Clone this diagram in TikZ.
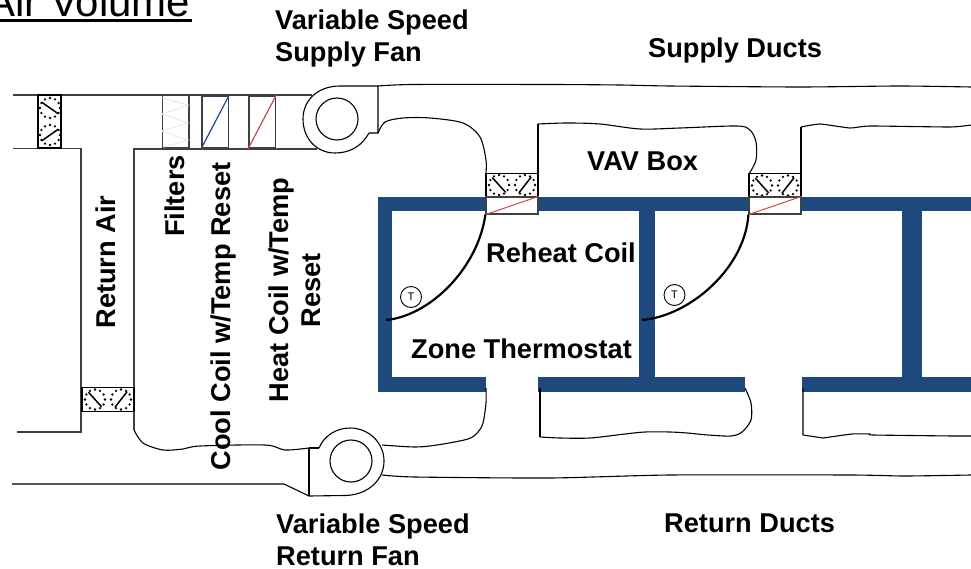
\documentclass[tikz,border=0pt]{standalone}
\usepackage{fontspec}
\setmainfont{Liberation Sans}
\usepackage{tikz}
\usetikzlibrary{
  positioning
}
\definecolor{wallblue}{HTML}{1F497D}
\definecolor{coilred}{HTML}{C0504D}
\definecolor{filtercream}{HTML}{EEECE1}
\definecolor{framegray}{HTML}{404040}
\tikzset{
  duct/.style = {black, line width=1.1pt, line join=round},
  framed/.style = {framegray, line width=1.5pt},
  wall/.style = {fill=wallblue, draw=none},
  wire/.style = {black, line width=2.2pt},
  damperbox/.style = {draw=black, line width=1.3pt, fill=white},
  coilbox/.style = {draw=framegray, line width=1.2pt, fill=white},
  label/.style = {font=\bfseries\fontsize{27.2}{32}\selectfont, inner sep=0pt, black},
  tstat/.style = {circle, draw=black, line width=0.9pt, fill=white, minimum size=21pt,
    inner sep=0pt, font=\fontsize{11}{11}\selectfont}
}
% one dial of a damper: centre x, centre y, blade angle
\newcommand{\damperdial}[3]{
    \begin{scope}[shift={(#1,#2)}]
        \foreach \ang in {0,30,...,330} {
            \fill (\ang:10) circle (1.3);
        }
        \draw[black, line width=1.5pt] (#3:10) -- (#3+180:10);
    \end{scope}
}

\begin{document}
\begin{tikzpicture}[x=1pt, y=-1pt]

    \useasboundingbox (0,0) rectangle (971,569);
    \clip (0,0) rectangle (971,569);

    % Title, cut off by the top edge
    \node[anchor=base west, inner sep=0pt, font=\fontsize{42}{42}\selectfont] (title) at (-13,17) {Air Volume};
    \draw[black, line width=3pt] (0,21) -- (192,21);

    % Air handler casing
    \draw[framed] (13,95) -- (312,95);
    \draw[framed] (13,148.5) -- (81,148.5) -- (81,432) -- (17,432);
    \draw[framed] (317,149) -- (134,149) -- (134,430);
    \draw[duct] plot[smooth, tension=0.5] coordinates {(134,430) (143,443) (163,450) (183,449) (200,446) (265,445) (285,450) (309,448)};

    % Zone walls
    \foreach \xa/\xb in {378/486, 538/749, 801/971} {
        \fill[wall] (\xa,197) rectangle (\xb,211);
    }
    \foreach \xa/\xb in {378/486, 538/745, 802/971} {
        \fill[wall] (\xa,377) rectangle (\xb,392);
    }
    \foreach \xa/\xb in {378/392, 639/655, 902/922} {
        \fill[wall] (\xa,197) rectangle (\xb,392);
    }

    % Supply fan
    \draw[duct] (337,119) circle (21);
    \draw[duct] (369,133) .. controls (362,146) and (350,153) .. (335,153)
        .. controls (316,153) and (303,138) .. (303,119)
        .. controls (303,100) and (318,86) .. (340,86) -- (378,86) -- (378,133) -- (369,133);

    % Return fan
    \draw[duct] (351,461) circle (21);
    \draw[duct] (319,448) .. controls (324,436) and (336,428) .. (350,428)
        .. controls (369,428) and (384,443) .. (384,461)
        .. controls (384,480) and (368,495) .. (345,495.5) -- (309,496) -- (284,484) -- (12,484);
    \draw[duct] (309,448) -- (309,496);
    \draw[duct] (309,448) -- (319,448);

    % Supply ducts
    \draw[duct] plot[smooth, tension=0.4] coordinates {(378,86) (413,84.5) (550,84.5) (620,85) (670,86) (800,87) (900,86) (971,87)};
    \draw[duct] plot[smooth, tension=0.5] coordinates {(378,133) (385,122) (403,118) (430,118) (463,123) (480,137) (486,160) (486,173)};
    \draw[duct] (538,173) -- (538,124);
    \draw[duct] plot[smooth, tension=0.5] coordinates {(538,124) (567,123) (600,124) (640,129) (680,128) (737,126) (750,130) (756,142) (756,160) (749,174)};
    \draw[duct] (801,174) -- (801,127);
    \draw[duct] plot[smooth, tension=0.3] coordinates {(801,127) (820,124) (850,128) (870,126) (950,127) (971,125)};

    % Return ducts
    \draw[duct] plot[smooth, tension=0.4] coordinates {(382,475) (415,477) (550,478) (670,475) (850,475) (905,476) (971,475)};
    \draw[duct] plot[smooth, tension=0.5] coordinates {(486,388) (486,403) (483,423) (478,432) (468,439) (437,445) (415,447) (382,445)};
    \draw[duct] (540,388) -- (540,437);
    \draw[duct] plot[smooth, tension=0.5] coordinates {(540,437) (560,438) (590,438) (625,434) (645,432) (670,432) (687,433) (708,435) (731,436) (742,432) (751,420) (751,403) (745,388)};
    \draw[duct] (803,388) -- (803,435) -- (823,438);
    \draw[duct] plot[smooth, tension=0.3] coordinates {(823,438) (852,434) (870,434) (873,435) (953,436) (971,436)};

    % Filter and main coils
    \node[draw=framegray, line width=1.5pt, fill=white, inner sep=0pt, minimum width=26.5pt, minimum height=52pt] (filterbox) at (175.5,121.5) {};
    \draw[filtercream, line width=1pt] (162,98) -- (188,105) -- (162,114) -- (188,123) -- (162,131) -- (188,140) -- (164,147);
    \foreach \name/\xa/\col in {coolcoil/201/wallblue, heatcoil/248/coilred} {
        \node[draw=framegray, line width=1.5pt, fill=white, inner sep=0pt, minimum width=26.5pt, minimum height=52pt, anchor=north west] (\name) at (\xa,95.5) {};
        \draw[\col, line width=1.2pt] (\name.south west) -- (\name.north east);
    }

    % Dampers
    \node[damperbox, inner sep=0pt, minimum width=23pt, minimum height=53pt] (oadamper) at (49.5,121.5) {};
    \damperdial{50}{108}{35}
    \damperdial{50}{135}{-35}
    \foreach \name/\xc/\yc/\xa/\xb in {
        radamper/108/399.5/95/121,
        vavA/512/185/499/525,
        vavB/775/185.5/762/788
    } {
        \node[damperbox, inner sep=0pt, minimum width=52pt, minimum height=23.5pt] (\name) at (\xc,\yc) {};
        \damperdial{\xa}{\yc}{48}
        \damperdial{\xb}{\yc}{-52}
    }

    % Reheat coils
    \foreach \name/\xc in {reheatA/512, reheatB/775} {
        \node[coilbox, inner sep=0pt, minimum width=52pt, minimum height=17pt] (\name) at (\xc,205.5) {};
        \draw[coilred, line width=1pt] (\name.south west) -- (\name.north east);
    }

    % Zone thermostats and their wires
    \node[tstat] (tstatA) at (411,297) {T};
    \node[tstat] (tstatB) at (674.5,295) {T};
    \coordinate (wireA) at (386,320);
    \coordinate (wireB) at (642,320);
    \draw[wire] (wireA) .. controls (430,316) and (478,268) .. (reheatA.south west);
    \draw[wire] (wireB) .. controls (690,316) and (745,268) .. (reheatB.south west);

    % Labels
    \node[label, anchor=west, align=left] (supplyfan) at (275,38.5) {Variable Speed\\Supply Fan};
    \node[label, anchor=west, align=left] (returnfan) at (276,540) {Variable Speed\\Return Fan};
    \node[label, anchor=west] (supplyducts) at (648,50) {Supply Ducts};
    \node[label, anchor=west] (returnducts) at (664,523) {Return Ducts};
    \node[label, anchor=west] (vavbox) at (587,161) {VAV Box};
    \node[label, anchor=west] (reheatcoil) at (486,253) {Reheat Coil};
    \node[label, anchor=west] (zonetstat) at (411,349) {Zone Thermostat};
    \node[label, rotate=90] (returnair) at (106,262) {Return Air};
    \node[label, rotate=90] (filters) at (175,196) {Filters};
    \node[label, rotate=90] (coollabel) at (223,316.5) {Cool Coil w/Temp Reset};
    \node[label, rotate=90, align=center] (heatlabel) at (295,290) {Heat Coil w/Temp\\Reset};

\end{tikzpicture}
\end{document}
